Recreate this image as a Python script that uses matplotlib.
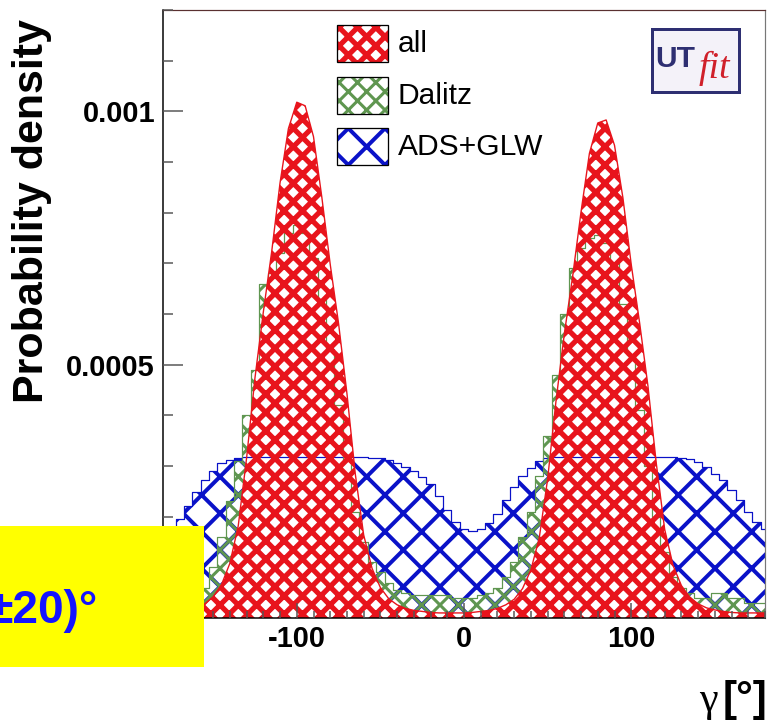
#!/usr/bin/env python3
"""
UTfit-style gamma probability density plot (all / Dalitz / ADS+GLW)
ROOT-like hatched histograms redrawn with matplotlib
"""

import numpy as np
import matplotlib
matplotlib.use('Agg')
import matplotlib.pyplot as plt
from matplotlib.patches import Rectangle
from matplotlib.ticker import MultipleLocator
from matplotlib import font_manager

# ---- data (units of 1e-6 per bin) ----
gamma_deg = np.arange(-180, 181, 5)

all_vals = [10, 11, 13, 16, 20, 28, 42, 66, 108, 182, 316, 474, 604, 723, 859, 966,
            1018, 1011, 950, 830, 698, 581, 443, 284, 164, 98, 60, 38, 26, 19, 15, 13,
            11, 10, 10, 10, 10, 11, 13, 15, 19, 26, 37, 58, 95, 158, 274, 428, 561, 675,
            802, 917, 977, 983, 933, 830, 698, 583, 458, 305, 175, 104, 64, 41, 28, 20,
            16, 13, 11, 10, 10, 10, 10]

dalitz_vals = [10, 15, 20, 30, 40, 60, 100, 160, 230, 310, 400, 490, 660, 680, 720, 760,
               775, 760, 710, 630, 530, 420, 310, 210, 150, 110, 90, 70, 55, 50, 45, 45,
               45, 45, 45, 40, 40, 40, 45, 50, 60, 80, 110, 160, 210, 280, 360, 480, 600,
               690, 730, 750, 755, 740, 700, 620, 520, 410, 300, 200, 130, 80, 60, 50, 40,
               40, 50, 50, 40, 40, 30, 30, 30]

adsglw_vals = [172, 180, 195, 222, 248, 272, 290, 305, 312, 316, 317, 318, 317, 318, 317,
               318, 317, 318, 317, 318, 317, 318, 317, 317, 317, 316, 316, 312, 305, 298,
               290, 278, 265, 240, 213, 190, 176, 172, 175, 188, 205, 232, 258, 280, 297,
               310, 316, 317, 318, 317, 318, 317, 318, 317, 318, 317, 318, 317, 318, 317,
               317, 317, 316, 314, 308, 298, 285, 272, 252, 232, 210, 190, 175]

series_labels = ['all', 'Dalitz', 'ADS+GLW']
ytick_vals = [0.0005, 0.001]
ytick_text = ['0.0005', '0.001']
xtick_vals = [-100, 0, 100]
xtick_text = ['-100', '0', '100']

# ---- geometry helpers (reference is 776x724 px) ----
DPI = 110
W, H = 776, 724


def pt(px):
    return px * 72.0 / DPI


def fx(x):
    return x / W


def fy(y):
    return 1 - y / H


installed = {f.name for f in font_manager.fontManager.ttflist}
SANS = 'Liberation Sans' if 'Liberation Sans' in installed else 'DejaVu Sans'
SERIF = 'Liberation Serif' if 'Liberation Serif' in installed else 'DejaVu Serif'

RED = '#e8141c'
GREEN = '#5f9650'
BLUE = '#0a12c8'

# hatch line widths (points)
HLW_RED, HLW_GREEN, HLW_BLUE = 3.4, 2.0, 2.6


def with_hatch_lw(artist, lw):
    """hatch width is taken from rcParams when the artist is drawn -> wrap draw()"""
    orig_draw = artist.draw

    def draw(renderer, *args, **kwargs):
        with plt.rc_context({'hatch.linewidth': lw}):
            return orig_draw(renderer, *args, **kwargs)

    artist.draw = draw
    if hasattr(artist, 'set_hatch_linewidth'):
        artist.set_hatch_linewidth(lw)
    return artist


def hatched_fill(ax, x, y, color, hatch, hlw, step, z):
    coll = ax.fill_between(x, 0, y, step=step, facecolor='none',
                           edgecolor=color, hatch=hatch, linewidth=0, zorder=z)
    return with_hatch_lw(coll, hlw)


fig = plt.figure(figsize=(W / DPI, H / DPI), dpi=DPI, facecolor='white')
ax = fig.add_axes([fx(163), fy(618), (765 - 163) / W, (618 - 10) / H])

x = gamma_deg
y_all = np.array(all_vals) * 1e-6
y_dal = np.array(dalitz_vals) * 1e-6
y_ads = np.array(adsglw_vals) * 1e-6

# blue below, green, red on top (as in the ROOT canvas)
hatched_fill(ax, x, y_ads, BLUE, 'x', HLW_BLUE, 'mid', 1.0)
ax.plot(x, y_ads, drawstyle='steps-mid', color=BLUE, lw=0.8, zorder=1.05)
hatched_fill(ax, x, y_dal, GREEN, 'xx', HLW_GREEN, 'mid', 1.1)
ax.plot(x, y_dal, drawstyle='steps-mid', color=GREEN, lw=0.8, zorder=1.15)
hatched_fill(ax, x, y_all, RED, 'xx', HLW_RED, None, 1.2)
ax.plot(x, y_all, color=RED, lw=0.9, zorder=1.25)

ax.set_xlim(-180, 180)
ax.set_ylim(0, 0.0012)
ax.set_axisbelow(False)

ax.set_xticks(xtick_vals)
ax.set_xticklabels(xtick_text)
ax.xaxis.set_minor_locator(MultipleLocator(10))
ax.set_yticks(ytick_vals)
ax.set_yticklabels(ytick_text)
ax.yaxis.set_minor_locator(MultipleLocator(0.0001))

ax.tick_params(which='both', direction='in', top=False, right=False, color='#555555',
               width=pt(1.5))
ax.tick_params(axis='y', which='major', length=pt(20), pad=pt(8))
ax.tick_params(axis='y', which='minor', length=pt(10))
ax.tick_params(axis='x', which='major', length=pt(15), pad=pt(7))
ax.tick_params(axis='x', which='minor', length=pt(7))
for lbl in ax.get_xticklabels() + ax.get_yticklabels():
    lbl.set_fontfamily(SANS)
    lbl.set_fontweight('bold')
    lbl.set_fontsize(pt(29))

for side in ['left', 'bottom']:
    ax.spines[side].set_color('black')
    ax.spines[side].set_linewidth(pt(1.5))
ax.spines['top'].set_color('#5a3030')
ax.spines['right'].set_color('#777777')
for side in ['top', 'right']:
    ax.spines[side].set_linewidth(pt(1.2))

# axis titles
fig.text(fx(32), fy(211), 'Probability density', rotation=90, ha='center', va='center',
         fontsize=pt(43), fontweight='bold', family=SANS)
fig.text(fx(767), fy(711), '[°]', ha='right', va='baseline', fontsize=pt(42),
         fontweight='bold', family=SANS)
fig.text(fx(718), fy(711), 'γ', ha='right', va='baseline', fontsize=pt(42), family=SERIF)

# legend (ROOT TLegend look, no frame)
leg_rows = [(series_labels[0], RED, 'xx', HLW_RED, 25),
            (series_labels[1], GREEN, 'xx', HLW_GREEN, 77),
            (series_labels[2], BLUE, 'x', HLW_BLUE, 128)]
for label, color, hatch, hlw, top in leg_rows:
    r = Rectangle((fx(337), fy(top + 37)), 51 / W, 37 / H, transform=fig.transFigure,
                  facecolor='white', edgecolor=color, hatch=hatch, lw=0, zorder=5)
    fig.add_artist(with_hatch_lw(r, hlw))
    fig.add_artist(Rectangle((fx(337), fy(top + 37)), 51 / W, 37 / H,
                             transform=fig.transFigure, fill=False, edgecolor='black',
                             lw=pt(1.3), zorder=6))
    fig.text(fx(398), fy(top + 19), label, ha='left', va='center', fontsize=pt(30),
             family=SANS, zorder=6)

# UTfit logo
fig.add_artist(Rectangle((fx(652), fy(92)), 87 / W, 63 / H, transform=fig.transFigure,
                         facecolor='#f4f2f9', edgecolor='#2e2f72', lw=pt(3), zorder=5))
fig.text(fx(655), fy(67), 'UT', ha='left', va='baseline', fontsize=pt(30),
         fontweight='bold', color='#2e2f72', family=SANS, zorder=6)
fig.text(fx(699), fy(78), 'fit', ha='left', va='baseline', fontsize=pt(38),
         style='italic', color='#d0202a', family=SERIF, zorder=6)

# yellow result box (cut at the left edge, as in the reference)
fig.add_artist(Rectangle((0, fy(667)), 204 / W, (667 - 526) / H, transform=fig.transFigure,
                         facecolor='#ffff00', edgecolor='none', zorder=10))
fig.text(fx(-12), fy(623), '±20)°', ha='left', va='baseline', fontsize=pt(46),
         fontweight='bold', color='#1414ff', family=SANS, zorder=11)

fig.savefig('out.png', dpi=DPI, facecolor='white')
